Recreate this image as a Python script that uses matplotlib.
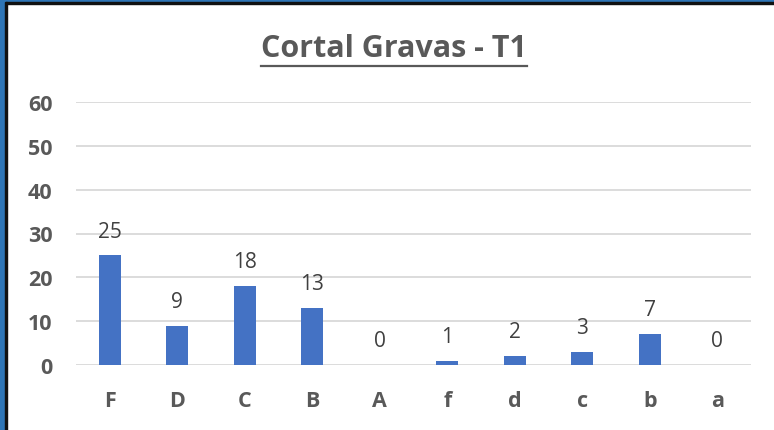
from matplotlib import pyplot as plt
from matplotlib.patches import Rectangle
from matplotlib.lines import Line2D

categories = ["F", "D", "C", "B", "A", "f", "d", "c", "b", "a"]
values = [25, 9, 18, 13, 0, 1, 2, 3, 7, 0]
yticks = [0, 10, 20, 30, 40, 50, 60]
title = "Cortal Gravas - T1"

W, H = 774, 431
fig = plt.figure(figsize=(W / 100, H / 100), dpi=100)
fig.patch.set_facecolor("white")
plt.rcParams["font.family"] = ["Open Sans", "DejaVu Sans"]

# frame: blue outer band and thin black line on top and left
fig.patches.append(Rectangle((0, 1 - 3 / H), 1, 3 / H, transform=fig.transFigure, color="#2E75B6", zorder=10))
fig.patches.append(Rectangle((0, 1 - 5 / H), 1, 2 / H, transform=fig.transFigure, color="#111111", zorder=10))
fig.patches.append(Rectangle((0, 0), 5 / W, 1, transform=fig.transFigure, color="#2E75B6", zorder=11))
fig.patches.append(Rectangle((5 / W, 0), 2 / W, 1 - 3 / H, transform=fig.transFigure, color="#111111", zorder=11))

ax = fig.add_axes([76 / W, 65 / H, 675 / W, 263 / H])
x = range(len(categories))
bars = ax.bar(x, values, width=0.33, color="#4472C4", zorder=3)
ax.set_xlim(-0.5, len(categories) - 0.5)
ax.set_ylim(0, 60)
ax.set_yticks(yticks)
ax.set_xticks(list(x))
ax.set_xticklabels(categories)
for s in ax.spines.values():
    s.set_visible(False)
ax.grid(axis="y", color="#D9D9D9", linewidth=1.3, zorder=0)
ax.tick_params(length=0, labelsize=15.5, labelcolor="#595959")
ax.tick_params(axis="x", pad=18)
ax.tick_params(axis="y", pad=17)
for lbl in ax.get_xticklabels() + ax.get_yticklabels():
    lbl.set_fontweight("bold")

for xi, v in zip(x, values):
    ax.annotate(str(v), (xi, v), xytext=(0, 10), textcoords="offset points",
                ha="center", va="bottom", fontsize=15, color="#404040")

t = fig.text(394 / W, 1 - 49 / H, title, ha="center", va="center",
             fontsize=22, fontweight="bold", color="#595959")
fig.canvas.draw()
bb = t.get_window_extent()
yline = H - 67
fig.add_artist(Line2D([bb.x0 / W, bb.x1 / W], [yline / H, yline / H],
                      transform=fig.transFigure, color="#595959", linewidth=1.6))

fig.savefig("out.png", dpi=100)
